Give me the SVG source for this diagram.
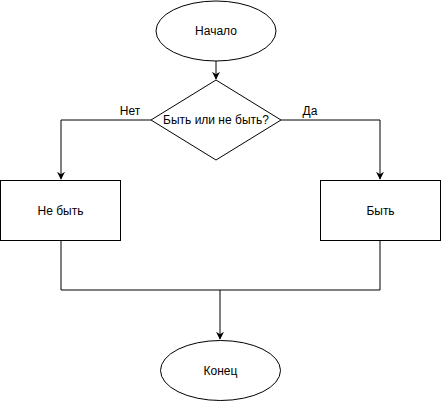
<svg xmlns="http://www.w3.org/2000/svg" width="441" height="402" viewBox="0 0 441 402">
<style>
.s{fill:#fff;stroke:#000;stroke-width:1}
.t{font-family:"Liberation Sans",Arial,sans-serif;font-size:12px;fill:#000;text-anchor:middle;dominant-baseline:central}
.c{fill:none;stroke:#000;stroke-width:1}
</style>
<defs>
<marker id="a" viewBox="0 0 10 10" refX="9" refY="5" markerWidth="8" markerHeight="8" markerUnits="userSpaceOnUse" orient="auto">
<path d="M0,0 L10,5 L0,10 L3,5 Z" fill="#000"/>
</marker>
</defs>
<rect width="441" height="402" fill="#fff"/>
<g id="connectors">
<path class="c" d="M216,61 V79" marker-end="url(#a)"/>
<path class="c" d="M151,120 H61 V179" marker-end="url(#a)"/>
<path class="c" d="M281,120 H380 V179" marker-end="url(#a)"/>
<path class="c" d="M61,240 V290 H380 V240"/>
<path class="c" d="M220,290 V339" marker-end="url(#a)"/>
<text class="t" x="130" y="111">Нет</text>
<text class="t" x="310" y="111">Да</text>
</g>
<g id="start">
<ellipse class="s" cx="216" cy="31" rx="60" ry="30"/>
<text class="t" x="216" y="31">Начало</text>
</g>
<g id="decision">
<path class="s" d="M216,80 L281,120 L216,160 L151,120 Z"/>
<text class="t" x="216" y="120">Быть или не быть?</text>
</g>
<g id="no">
<rect class="s" x="0.5" y="180.5" width="120" height="60"/>
<text class="t" x="60.5" y="210.5">Не быть</text>
</g>
<g id="yes">
<rect class="s" x="320.5" y="180.5" width="120" height="60"/>
<text class="t" x="380.5" y="210.5">Быть</text>
</g>
<g id="end">
<ellipse class="s" cx="220.5" cy="370.5" rx="60" ry="30"/>
<text class="t" x="220.5" y="370.5">Конец</text>
</g>
</svg>
